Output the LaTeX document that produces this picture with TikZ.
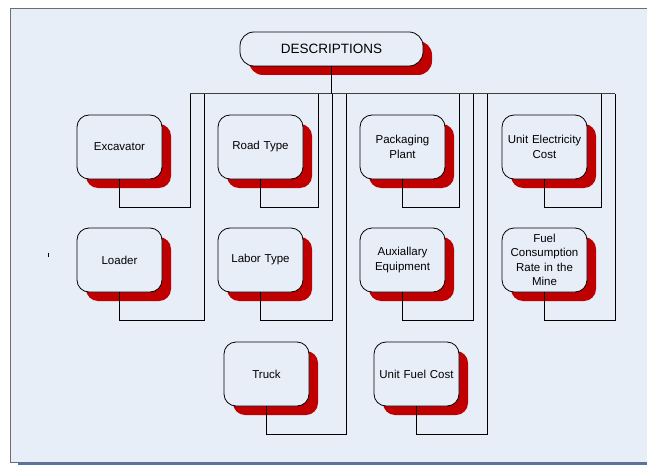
\documentclass[tikz,border=0pt]{standalone}
\usepackage{fontspec}
\setmainfont{Liberation Sans}
\usetikzlibrary{shadows}
\definecolor{bgc}{HTML}{E8EEF8}
\definecolor{shred}{HTML}{C00000}
\definecolor{frameline}{HTML}{6E6E6E}
\definecolor{blueline}{HTML}{4F74B8}
\tikzset{
  itembox/.style={draw=black, line width=0.8pt, fill=bgc, rounded corners=12pt,
    minimum width=85pt, minimum height=64pt, text width=80pt, align=center,
    inner sep=1pt, font=\fontsize{11.5}{14.5}\selectfont,
    copy shadow={shadow xshift=9pt, shadow yshift=-9pt, fill=shred, draw=none}},
  titlebox/.style={itembox, minimum width=183pt, minimum height=34pt, text width=170pt,
    rounded corners=14pt, font=\fontsize{13.5}{16}\selectfont},
  conn/.style={draw=black, line width=0.7pt},
  busline/.style={draw=black!75, line width=1pt}
}
\begin{document}
\begin{tikzpicture}[x=1pt,y=-1pt]
\useasboundingbox (0,0) rectangle (647,465);
\fill[white] (0,0) rectangle (647,465);
\draw[blueline, line width=2pt] (18,464) -- (670,464);
\draw[frameline, line width=1pt, fill=bgc] (10,9) rectangle (670,462);
\draw[black, line width=1pt] (48,253) -- (48,257);

\node[titlebox] (desc) at (331.5,49) {DESCRIPTIONS};

\node[itembox] (exc)  at (119.5,147) {Excavator};
\node[itembox] (road) at (260.5,147) {Road Type};
\node[itembox] (pack) at (402.5,147) {Packaging\\Plant};
\node[itembox] (elec) at (544.5,147) {Unit Electricity\\Cost};
\node[itembox] (load) at (119.5,260) {Loader};
\node[itembox] (labr) at (260.5,260) {Labor Type};
\node[itembox] (aux)  at (402.5,260) {Auxiallary\\Equipment};
\node[itembox] (fuel) at (544.5,260) {Fuel\\Consumption\\Rate in the\\Mine};
\node[itembox] (truck) at (266.5,374) {Truck};
\node[itembox] (ufc)  at (416.5,374) {Unit Fuel Cost};

\coordinate (b1) at (190,94);
\coordinate (b2) at (204,94);
\coordinate (b3) at (318,94);
\coordinate (b4) at (332,94);
\coordinate (b5) at (346,94);
\coordinate (b6) at (459,94);
\coordinate (b7) at (473,94);
\coordinate (b8) at (487,94);
\coordinate (b9) at (601,94);
\coordinate (b10) at (615,94);

\draw[busline] (b1) -- (b10);
\draw[conn] (desc.south) -- (desc.south |- b1);

\draw[conn] (exc.south) -- ++(0,28) -| (b1);
\draw[conn] (load.south) -- ++(0,28) -| (b2);
\draw[conn] (road.south) -- ++(0,28) -| (b3);
\draw[conn] (labr.south) -- ++(0,28) -| (b4);
\draw[conn] (truck.south) -- ++(0,28) -| (b5);
\draw[conn] (pack.south) -- ++(0,28) -| (b6);
\draw[conn] (aux.south) -- ++(0,28) -| (b7);
\draw[conn] (ufc.south) -- ++(0,28) -| (b8);
\draw[conn] (elec.south) -- ++(0,28) -| (b9);
\draw[conn] (fuel.south) -- ++(0,28) -| (b10);
\end{tikzpicture}
\end{document}
